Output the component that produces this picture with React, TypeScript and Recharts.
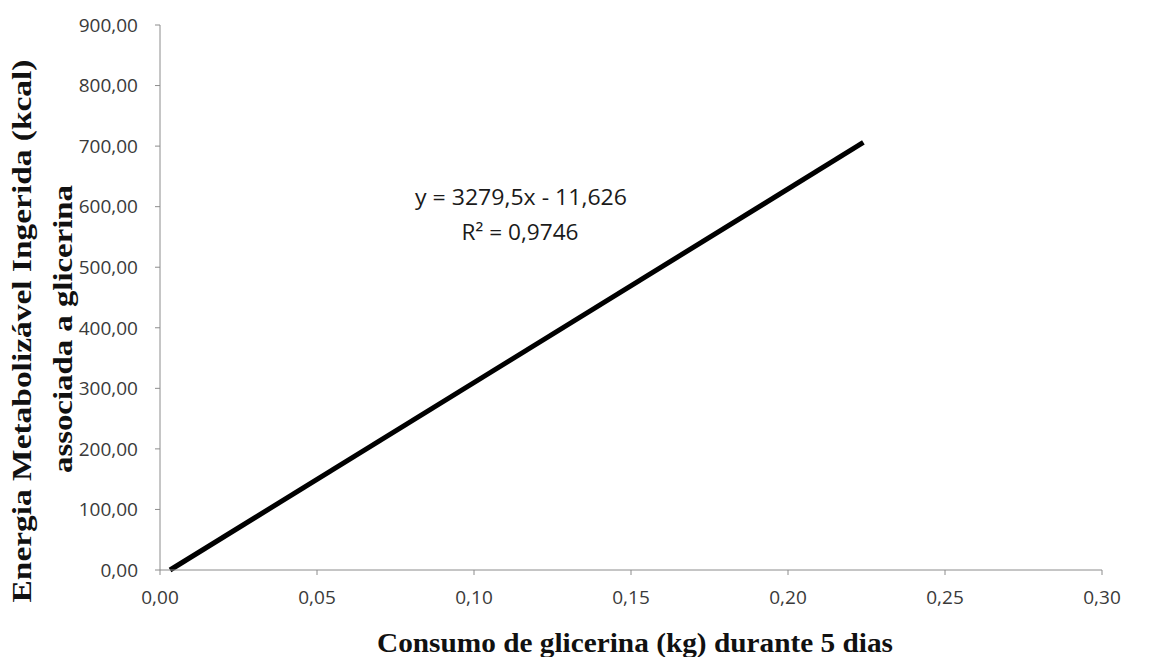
import React from "react";
import { LineChart, Line, XAxis, YAxis, Customized } from "recharts";

const xValues = [0.0032, 0.224];
const yValues = [0, 706];
const xTicks = [0, 0.05, 0.1, 0.15, 0.2, 0.25, 0.3];
const yTicks = [0, 100, 200, 300, 400, 500, 600, 700, 800, 900];
const equationText = "y = 3279,5x - 11,626";
const r2Text = "R² = 0,9746";
const xTitle = "Consumo de glicerina (kg) durante 5 dias";
const yTitle1 = "Energia  Metabolizável Ingerida (kcal)";
const yTitle2 = "associada a glicerina";

const data = xValues.map((x, i) => ({ x, y: yValues[i] }));

const fmt = (v: number) => v.toFixed(2).replace(".", ",");

const tickFont = "'Open Sans', 'Liberation Sans', sans-serif";
const titleFont = "'Liberation Serif', 'DejaVu Serif', serif";

const Texts = () => (
  <g>
    <text x={521} y={205} textAnchor="middle" fontFamily={tickFont} fontSize={22} fill="#1a1a1a" textLength={212} lengthAdjust="spacingAndGlyphs">
      {equationText}
    </text>
    <text x={520} y={240} textAnchor="middle" fontFamily={tickFont} fontSize={22} fill="#1a1a1a" textLength={117} lengthAdjust="spacingAndGlyphs">
      {r2Text}
    </text>
    <text x={635} y={652} textAnchor="middle" fontFamily={titleFont} fontWeight="bold" fontSize={27} fill="#111" textLength={516} lengthAdjust="spacingAndGlyphs">
      {xTitle}
    </text>
    <text x={0} y={0} transform="translate(31,331) rotate(-90)" textAnchor="middle" fontFamily={titleFont} fontWeight="bold" fontSize={27} fill="#111" textLength={543} lengthAdjust="spacingAndGlyphs">
      {yTitle1}
    </text>
    <text x={0} y={0} transform="translate(72,329) rotate(-90)" textAnchor="middle" fontFamily={titleFont} fontWeight="bold" fontSize={27} fill="#111" textLength={288} lengthAdjust="spacingAndGlyphs">
      {yTitle2}
    </text>
  </g>
);

export default function App() {
  return (
    <div style={{ position: "absolute", left: 0, top: 0, width: 1151, height: 657, background: "#fff" }}>
      <LineChart width={1151} height={657} data={data} margin={{ top: 25, right: 49, bottom: 0, left: 0 }}>
        <XAxis
          type="number"
          dataKey="x"
          domain={[0, 0.3]}
          ticks={xTicks}
          tickFormatter={fmt}
          height={87}
          tickSize={5}
          tickMargin={16}
          stroke="#8c8c8c"
          tick={{ fill: "#3a3a3a", fontSize: 19, fontFamily: tickFont }}
          interval={0}
        />
        <YAxis
          type="number"
          dataKey="y"
          domain={[0, 900]}
          ticks={yTicks}
          tickFormatter={fmt}
          width={160}
          tickSize={5}
          tickMargin={17}
          stroke="#8c8c8c"
          tick={{ fill: "#3a3a3a", fontSize: 19, fontFamily: tickFont }}
          interval={0}
        />
        <Line
          type="linear"
          dataKey="y"
          stroke="#000"
          strokeWidth={5}
          dot={false}
          isAnimationActive={false}
        />
        <Customized component={Texts} />
      </LineChart>
    </div>
  );
}
